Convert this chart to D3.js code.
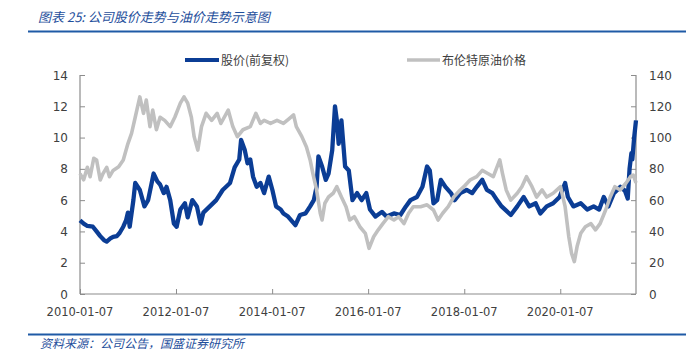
<!DOCTYPE html>
<html>
<head>
<meta charset="utf-8">
<style>
body { margin: 0; background: #fff; }
#chart { width: 696px; height: 364px; display: block; }
text { font-family: "DejaVu Sans", Verdana, sans-serif; }
.cn { font-family: "Noto Sans CJK SC", sans-serif; }
</style>
</head>
<body>
<svg id="chart" width="696" height="364"></svg>
<script src="https://d3js.org/d3.v7.min.js"></script>
<script>
// stock price (forward-adjusted), left axis
var stockDates = ["2010-01-07","2010-02-04","2010-03-04","2010-04-15","2010-05-13","2010-06-10","2010-07-08","2010-07-29","2010-08-26","2010-09-16","2010-10-14","2010-11-04","2010-12-02","2010-12-23","2011-01-06","2011-01-20","2011-02-17","2011-03-03","2011-04-07","2011-05-12","2011-06-09","2011-07-21","2011-08-18","2011-09-08","2011-10-06","2011-10-27","2011-11-24","2011-12-22","2012-01-12","2012-02-09","2012-03-15","2012-04-05","2012-05-10","2012-06-14","2012-07-12","2012-08-02","2012-09-20","2012-11-08","2012-12-27","2013-02-21","2013-03-28","2013-05-02","2013-05-16","2013-06-13","2013-07-04","2013-07-25","2013-08-15","2013-09-12","2013-10-10","2013-11-07","2013-12-12","2014-01-09","2014-02-06","2014-03-13","2014-04-03","2014-05-08","2014-07-03","2014-08-07","2014-09-18","2014-10-23","2014-11-20","2014-12-11","2014-12-25","2015-01-22","2015-02-19","2015-03-12","2015-04-09","2015-04-30","2015-05-14","2015-05-28","2015-06-18","2015-07-16","2015-08-13","2015-09-10","2015-10-15","2015-11-19","2015-12-24","2016-01-21","2016-03-03","2016-04-21","2016-05-26","2016-07-21","2016-09-08","2016-10-20","2016-11-24","2017-01-12","2017-02-23","2017-03-30","2017-04-20","2017-05-18","2017-06-15","2017-07-13","2017-08-17","2017-09-28","2017-10-26","2017-12-07","2018-01-25","2018-03-08","2018-04-12","2018-05-24","2018-06-28","2018-08-09","2018-09-13","2018-10-18","2018-12-27","2019-02-14","2019-04-04","2019-05-16","2019-07-04","2019-08-08","2019-09-26","2019-11-14","2020-01-02","2020-02-13","2020-03-05","2020-04-16","2020-06-11","2020-07-30","2020-09-17","2020-10-29","2020-12-03","2021-01-07","2021-02-18","2021-04-08","2021-05-13","2021-06-03","2021-06-17","2021-07-01","2021-07-08","2021-07-22","2021-08-05"];
var stockValues = [4.7,4.5,4.35,4.3,4.0,3.7,3.45,3.35,3.55,3.65,3.7,3.9,4.3,4.7,5.2,4.3,6.0,7.1,6.65,5.6,6.0,7.7,7.2,7.0,6.45,6.85,6.0,4.5,4.3,5.4,5.8,4.9,6.0,5.6,4.5,5.2,5.6,6.0,6.65,7.1,8.1,8.6,9.85,9.2,8.35,8.6,7.5,6.85,7.1,6.45,7.5,6.65,5.6,5.4,5.15,4.95,4.4,5.05,5.15,5.6,6.0,6.85,8.8,8.15,7.3,7.7,9.2,12.0,11.1,9.6,11.1,8.15,7.9,6.0,6.45,6.0,6.45,5.4,4.95,5.25,4.95,5.15,5.05,5.6,6.0,6.2,6.85,8.15,7.9,5.8,6.0,7.3,6.85,6.45,6.0,6.45,6.65,6.45,6.85,7.3,6.65,6.45,6.0,5.6,5.05,5.6,6.2,5.6,5.8,5.15,5.6,5.8,6.2,7.1,6.2,5.6,5.8,5.4,5.6,5.4,6.2,5.6,6.45,6.85,6.6,6.1,8.0,9.0,8.6,10.0,11.1];

// Brent crude price, right axis
var oilDates = ["2010-01-07","2010-02-04","2010-03-04","2010-03-25","2010-04-22","2010-05-13","2010-06-10","2010-07-01","2010-07-29","2010-08-19","2010-09-16","2010-10-28","2010-12-02","2011-01-06","2011-02-03","2011-03-03","2011-04-07","2011-05-05","2011-05-26","2011-06-23","2011-07-14","2011-08-11","2011-09-08","2011-10-13","2011-11-24","2011-12-29","2012-02-09","2012-03-08","2012-04-05","2012-05-03","2012-05-24","2012-06-21","2012-07-19","2012-08-23","2012-10-04","2012-11-15","2012-12-13","2013-02-07","2013-03-14","2013-04-18","2013-05-30","2013-07-25","2013-09-05","2013-10-10","2013-11-07","2013-12-26","2014-02-13","2014-04-03","2014-05-15","2014-06-19","2014-07-10","2014-08-21","2014-09-25","2014-10-23","2014-11-13","2014-12-11","2015-01-08","2015-01-22","2015-02-12","2015-03-12","2015-04-16","2015-05-14","2015-06-18","2015-07-23","2015-08-20","2015-09-24","2015-11-05","2015-12-17","2016-01-14","2016-02-18","2016-03-24","2016-04-28","2016-06-09","2016-07-21","2016-08-25","2016-10-06","2016-11-10","2016-12-15","2017-02-09","2017-03-30","2017-05-18","2017-06-22","2017-07-27","2017-09-07","2017-10-19","2017-12-07","2018-01-04","2018-02-22","2018-04-12","2018-05-24","2018-07-05","2018-08-16","2018-10-04","2018-10-25","2018-11-22","2018-12-27","2019-02-14","2019-03-21","2019-04-25","2019-06-06","2019-07-11","2019-08-22","2019-09-26","2019-11-14","2020-01-09","2020-02-13","2020-03-12","2020-04-02","2020-04-23","2020-05-14","2020-06-11","2020-07-16","2020-08-27","2020-10-01","2020-11-05","2020-12-17","2021-01-21","2021-02-25","2021-04-08","2021-05-20","2021-06-24","2021-07-15","2021-08-05"];
var oilValues = [77,73,81,75,86.8,85.7,72.9,77,81,75,79,81.4,85.7,96,102.7,113,126,115.5,124,107,117.6,105,113,111,107,113,122,126,122,113,100.6,92,107,115.5,111,115.5,109,117.6,107,100.6,105,107,115.5,109,111,109,111,109,112,114.5,107,100.6,94,85.7,77,66.5,51.6,47.3,58,62,64.4,68.6,62,55.8,47.3,49.4,43,38.8,29.2,36.6,41,45,49.4,47.3,49.4,45,51.6,55.8,55.8,57,53.7,47.3,51.6,55.8,62,66.5,68.6,73,75,79,77,75,85.7,77,66.5,60,64.4,68.6,75,68.6,62,66.5,62,64.4,68.6,55.8,36.6,26,20.7,30.3,38.8,43,45,41,45,53.7,62,68.6,66.5,70.8,75,76,71];

var xTickLabels = ["2010-01-07","2012-01-07","2014-01-07","2016-01-07","2018-01-07","2020-01-07"];
var leftTicks = [0,2,4,6,8,10,12,14];
var rightTicks = [0,20,40,60,80,100,120,140];

var parse = d3.timeParse("%Y-%m-%d");
var stock = stockDates.map((d, i) => ({date: parse(d), v: stockValues[i]}));
var oil = oilDates.map((d, i) => ({date: parse(d), v: oilValues[i]}));

var svg = d3.select("#chart");
var plotL = 80, plotR = 636, plotT = 75, plotB = 294;

var x = d3.scaleTime()
    .domain([parse("2010-01-07"), parse("2021-08-05")])
    .range([plotL, plotR]);
var yL = d3.scaleLinear().domain([0, 14]).range([plotB, plotT]);
var yR = d3.scaleLinear().domain([0, 140]).range([plotB, plotT]);

var blue = "#0b3d95", grey = "#c0c0c0", axisCol = "#8c8c8c", labCol = "#404040";

// title and rules
svg.append("text").attr("class", "cn")
    .attr("x", 38).attr("y", 22)
    .attr("font-size", 13).attr("font-style", "italic")
    .attr("fill", "#1f4f9c")
    .text("图表 25:  公司股价走势与油价走势示意图");
svg.append("line").attr("x1", 28).attr("x2", 686).attr("y1", 31.5).attr("y2", 31.5)
    .attr("stroke", "#1f5aa6").attr("stroke-width", 2);
svg.append("line").attr("x1", 28).attr("x2", 686).attr("y1", 334.5).attr("y2", 334.5)
    .attr("stroke", "#1f5aa6").attr("stroke-width", 2);
svg.append("text").attr("class", "cn")
    .attr("x", 40).attr("y", 348)
    .attr("font-size", 12).attr("font-style", "italic")
    .attr("fill", "#1f4f9c")
    .text("资料来源：公司公告，国盛证券研究所");

// axes
var gL = svg.append("g").attr("transform", "translate(" + plotL + ",0)")
    .call(d3.axisRight(yL).tickValues(leftTicks).tickSize(5).tickFormat(d => ""));
var gR = svg.append("g").attr("transform", "translate(" + plotR + ",0)")
    .call(d3.axisLeft(yR).tickValues(rightTicks).tickSize(5).tickFormat(d => ""));
var gX = svg.append("g").attr("transform", "translate(0," + plotB + ")")
    .call(d3.axisTop(x).tickValues(xTickLabels.map(parse)).tickSize(5).tickFormat(d => ""));
[gL, gR, gX].forEach(g => {
    g.select(".domain").attr("stroke", axisCol).attr("stroke-width", 1.2);
    g.selectAll(".tick line").attr("stroke", axisCol);
});
gL.select(".domain").attr("d", "M0," + plotT + "V" + plotB);
gR.select(".domain").attr("d", "M0," + plotT + "V" + plotB);
gX.select(".domain").attr("d", "M" + plotL + ",0H" + plotR);

svg.append("g").selectAll("text").data(leftTicks).enter().append("text")
    .attr("x", 68).attr("y", d => yL(d) + 4.5)
    .attr("text-anchor", "end").attr("font-size", 12).attr("fill", labCol)
    .text(d => d);
svg.append("g").selectAll("text").data(rightTicks).enter().append("text")
    .attr("x", 649).attr("y", d => yR(d) + 4.5)
    .attr("font-size", 12).attr("fill", labCol)
    .text(d => d);
svg.append("g").selectAll("text").data(xTickLabels).enter().append("text")
    .attr("x", d => x(parse(d))).attr("y", 316)
    .attr("text-anchor", "middle").attr("font-size", 11.5).attr("fill", labCol)
    .text(d => d);

// lines
var lineL = d3.line().x(d => x(d.date)).y(d => yL(d.v));
var lineR = d3.line().x(d => x(d.date)).y(d => yR(d.v));
svg.append("path").datum(stock).attr("d", lineL)
    .attr("fill", "none").attr("stroke", blue).attr("stroke-width", 4.3).attr("stroke-linejoin", "round");
svg.append("path").datum(oil).attr("d", lineR)
    .attr("fill", "none").attr("stroke", grey).attr("stroke-width", 3.6).attr("stroke-linejoin", "round");

// legend
svg.append("line").attr("x1", 185).attr("x2", 219).attr("y1", 60).attr("y2", 60)
    .attr("stroke", blue).attr("stroke-width", 4);
svg.append("text").attr("class", "cn").attr("x", 221).attr("y", 64.5)
    .attr("font-size", 12).attr("fill", labCol).text("股价(前复权)");
svg.append("line").attr("x1", 407).attr("x2", 440).attr("y1", 60).attr("y2", 60)
    .attr("stroke", grey).attr("stroke-width", 3.5);
svg.append("text").attr("class", "cn").attr("x", 442).attr("y", 64.5)
    .attr("font-size", 12).attr("fill", labCol).text("布伦特原油价格");
</script>
</body>
</html>
